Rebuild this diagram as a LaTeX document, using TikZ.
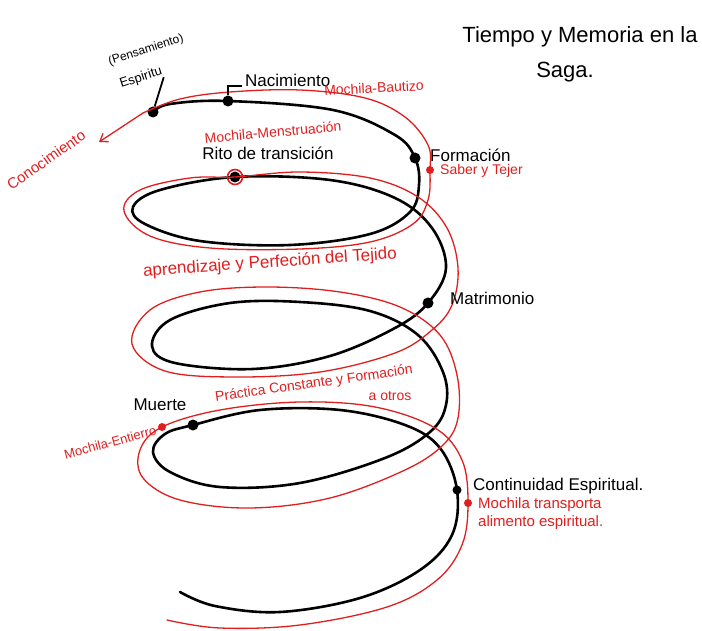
\documentclass[tikz,border=0pt]{standalone}
\usepackage{fontspec}
\setmainfont{Liberation Sans}
\usetikzlibrary{arrows.meta,calc,positioning}
\definecolor{ink}{RGB}{225,30,30}

\begin{document}
\begin{tikzpicture}[x=1pt, y=-1pt,
                    spiral/.style ={draw=black, line width=2.6pt, line cap=round},
                    trace/.style  ={draw=ink, line width=1.3pt, line cap=round},
                    lead/.style   ={draw=black, line width=1.8pt},
                    dot/.style    ={circle, fill=black, minimum size=11pt, inner sep=0},
                    rdot/.style   ={circle, fill=ink, minimum size=8pt, inner sep=0},
                    stage/.style  ={font=\fontsize{17}{19}\selectfont, inner sep=0},
                    note/.style   ={font=\fontsize{14}{17}\selectfont, text=ink, inner sep=0},
                    title/.style  ={font=\fontsize{22}{26}\selectfont, inner sep=0}]

      \useasboundingbox (0,0) rectangle (702,631);

      \node[title] at(580, 37)             (title1)  {Tiempo y Memoria en la};
      \node[title] at(565, 72)             (title2)  {Saga.};

      \node[dot]   at(153,112)             (espiritu)    {};
      \node[dot]   at(228,101)             (nacimiento)  {};
      \node[dot]   at(415,158)             (formacion)   {};
      \node[dot]   at(235,177)             (rito)        {};
      \node[dot]   at(428,303)             (matrimonio)  {};
      \node[dot]   at(193,425)             (muerte)      {};
      \node[dot, minimum size=9pt] at(457,490) (continuidad) {};
      \node[rdot]  at(430,170)             (saber)       {};
      \node[rdot]  at(162,427)             (entierro)    {};
      \node[rdot]  at(468,503)             (transporta)  {};
      \coordinate (redstart) at(143,113);
      \coordinate (conotip)  at(99,142);

      \draw[spiral] plot[smooth, tension=0.6] coordinates {(espiritu) (170,104) (nacimiento) (333,110) (395,135) (formacion)
        (419,185) (410,212) (370,234) (290,245) (200,241) (145,224) (133,207) (160,190) (rito) (330,180) (395,198)
        (432,228) (446,268) (matrimonio) (395,328) (330,356) (253,369) (175,363) (152,346) (170,320) (230,303)
        (300,302) (370,311) (418,335) (443,372) (446,405) (430,432) (385,458) (300,483) (220,487) (170,472)
        (153,452) (165,434) (muerte) (260,410) (340,410) (405,425) (440,448) (continuidad) (452,535) (420,570)
        (360,598) (280,612) (215,606) (180,592)};

      \draw[trace] plot[smooth, tension=0.6] coordinates {(redstart) (180,99) (230,92) (300,90) (365,98) (405,117) (428,145)
        (saber) (428,200) (413,224) (370,242) (300,249) (210,248) (150,236) (124,211) (140,190) (190,178) (rito)
        (300,172) (370,178) (418,197) (447,228) (458,268) (452,305) (432,330) (395,353) (320,372) (235,377)
        (165,371) (132,344) (150,310) (200,292) (267,287) (340,292) (400,307) (440,335) (457,375) (458,418)
        (443,445) (405,470) (330,498) (250,508) (180,500) (143,478) (140,450) (entierro) (220,410) (300,402)
        (375,407) (435,428) (462,460) (transporta) (462,545) (437,580) (387,607) (300,625) (220,628) (167,620)};
      \draw[ink, line width=1.6pt] (rito) circle (7.5pt);
      \draw[trace, -{Straight Barb[length=7pt, width=10pt]}] (redstart) -- (conotip);

      \node[font=\fontsize{12}{14}\selectfont, rotate=18, inner sep=0] at(146, 50) (pensamiento) {(Pensamiento)};
      \node[font=\fontsize{13}{15}\selectfont, rotate=18, inner sep=0] at(141, 78) (espiritulbl) {Espiritu};
      \draw[lead] (espiritulbl.south east) -- (espiritu);
      \node[stage, anchor=west] at($(nacimiento)+(17,-21)$) (nacimientolbl) {Nacimiento};
      \draw[lead] (nacimiento) |- ($(nacimientolbl.west)+(-3,6)$);
      \node[stage, anchor=west] at($(formacion)+(15,-3)$)   (formacionlbl)  {Formación};
      \node[stage] at($(rito)+(33,-24)$)                     (ritolbl)       {Rito de transición};
      \node[stage, anchor=west] at($(matrimonio)+(22,-5)$)  (matrimoniolbl) {Matrimonio};
      \node[stage] at($(muerte)+(-33,-20)$)                  (muertelbl)     {Muerte};
      \node[stage, anchor=west] at($(continuidad)+(16,-4)$) (continuidadlbl){Continuidad Espiritual.};

      \node[note, rotate=35, font=\fontsize{15}{17}\selectfont] at(46,160) (conocimiento) {Conocimiento};
      \node[note, rotate=3]  at(374, 88)                   (bautizo)      {Mochila-Bautizo};
      \node[note, rotate=5]  at(273,132)                   (menstruacion) {Mochila-Menstruación};
      \node[note, anchor=west] at($(saber)+(10,1)$)        (saberlbl)     {Saber y Tejer};
      \node[note, rotate=4, font=\fontsize{17}{19}\selectfont] at(270,263) (aprendizaje) {aprendizaje y Perfeción del Tejido};
      \node[note, rotate=8]  at(314,384)                   (practica)     {Práctica Constante y Formación};
      \node[note]            at(390,396)                   (otros)        {a otros};
      \node[note, rotate=15, anchor=east, font=\fontsize{13}{15}\selectfont] at($(entierro)+(-6,3)$) (entierrolbl) {Mochila-Entierro};
      \node[note, anchor=north west, align=left, font=\fontsize{15}{18}\selectfont] at($(transporta)+(10,-6)$) (transportalbl) {Mochila transporta\\alimento espiritual.};
    \end{tikzpicture}
\end{document}
